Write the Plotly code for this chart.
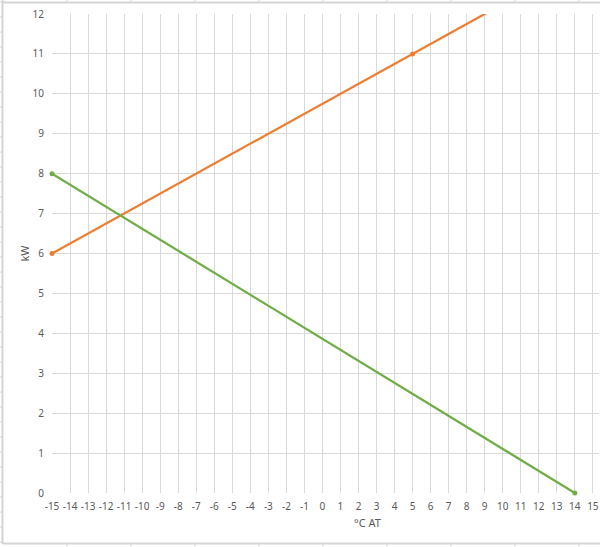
import numpy as np
import plotly.graph_objects as go

# Data
orange_x = [-15, 5]
orange_y = [6, 11]
green_x = [-15, 14]
green_y = [8, 0]
x_ticks = list(range(-15, 16))
y_ticks = list(range(0, 13))
x_title = "°C AT"
y_title = "kW"

ORANGE = "#ED7D31"
GREEN = "#70AD47"
GRID = "#D9D9D9"
TXT = "#595959"
FONT = "Noto Sans"

W, H = 600, 547
L, R, T, B = 52, 1, 14, 54
XMIN, XMAX = -15, 15.34

fig = go.Figure()

# orange line extended (linear through the data points) across the axis range
coef = np.polyfit(orange_x, orange_y, 1)
ext_x = np.array([XMIN, XMAX])
fig.add_trace(go.Scatter(x=ext_x, y=np.polyval(coef, ext_x), mode="lines",
                         line=dict(color=ORANGE, width=2.25), hoverinfo="skip",
                         showlegend=False))
fig.add_trace(go.Scatter(x=orange_x, y=orange_y, mode="markers",
                         marker=dict(color=ORANGE, size=5), cliponaxis=False,
                         showlegend=False))
fig.add_trace(go.Scatter(x=green_x, y=green_y, mode="lines+markers",
                         line=dict(color=GREEN, width=2.25),
                         marker=dict(color=GREEN, size=5), cliponaxis=False,
                         showlegend=False))

fig.update_xaxes(range=[XMIN, XMAX], tickvals=x_ticks, ticktext=[str(v) for v in x_ticks],
                 showgrid=True, gridcolor=GRID, gridwidth=1, zeroline=False,
                 showline=False, ticks="", ticklabelstandoff=6, automargin=False,
                 tickfont=dict(family=FONT, size=10, color=TXT))
fig.update_yaxes(range=[0, 12], tickvals=y_ticks, showgrid=True, gridcolor=GRID,
                 gridwidth=1, zeroline=False, showline=False, ticks="",
                 ticklabelstandoff=7, automargin=False,
                 tickfont=dict(family=FONT, size=10, color=TXT),
                 title=dict(text=y_title, standoff=0,
                            font=dict(family=FONT, size=11, color=TXT)))

pw = W - L - R
ph = H - T - B
def px(x):
    return (x - L) / pw
def py(y):
    return (H - B - y) / ph

fig.add_annotation(x=px(367), y=py(522), xref="paper", yref="paper", text=x_title,
                   showarrow=False, yanchor="middle",
                   font=dict(family=FONT, size=11, color=TXT))

# spreadsheet cell borders around the chart
BORDER = "#D4D4D4"
shapes = [
    dict(type="line", xref="paper", yref="paper", x0=px(3), x1=px(600), y0=py(2.5), y1=py(2.5),
         line=dict(color=BORDER, width=2)),
    dict(type="line", xref="paper", yref="paper", x0=px(2.5), x1=px(2.5), y0=py(0), y1=py(544),
         line=dict(color=BORDER, width=2)),
    dict(type="line", xref="paper", yref="paper", x0=px(3), x1=px(600), y0=py(543.5), y1=py(543.5),
         line=dict(color=BORDER, width=2)),
]
for cx in range(67, 600, 64):
    shapes.append(dict(type="line", xref="paper", yref="paper", x0=px(cx), x1=px(cx),
                       y0=py(0), y1=py(2), line=dict(color=BORDER, width=1)))
    shapes.append(dict(type="line", xref="paper", yref="paper", x0=px(cx), x1=px(cx),
                       y0=py(544), y1=py(547), line=dict(color=BORDER, width=1)))
for ry in range(2, 547, 15):
    shapes.append(dict(type="line", xref="paper", yref="paper", x0=px(0), x1=px(2),
                       y0=py(ry), y1=py(ry), line=dict(color=BORDER, width=1)))
fig.update_layout(shapes=shapes)

fig.update_layout(width=W, height=H, margin=dict(l=L, r=R, t=T, b=B),
                  plot_bgcolor="white", paper_bgcolor="white",
                  font=dict(family=FONT, color=TXT), showlegend=False)

fig.write_html("out.html", config={"displayModeBar": False},
               post_script="document.body.style.margin='0';document.body.style.overflow='hidden';")
